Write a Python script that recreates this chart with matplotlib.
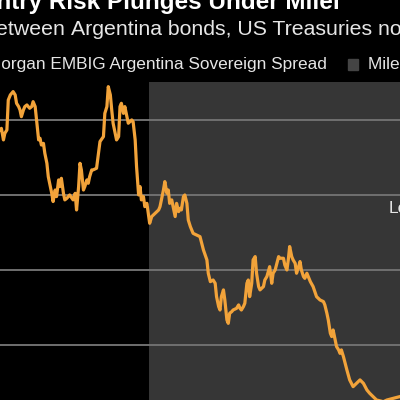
import matplotlib.pyplot as plt
import pandas as pd

# days since 2023-05-08 and spread in bps (JPMorgan EMBIG Argentina)
days = [0, 2, 5, 7, 10, 12, 15, 19, 22, 24, 27, 29, 31, 34, 36, 39, 41, 43, 46, 48,
        51, 53, 56, 58, 60, 63, 65, 68, 70, 72, 75, 77, 80, 82, 85, 87, 89, 92, 94, 97,
        101, 106, 109, 111, 114, 116, 118, 121, 123, 126, 128, 130, 133, 135, 140, 145,
        150, 152, 155, 157, 160, 162, 164, 169, 172, 174, 176, 179, 181, 184, 186, 191,
        193, 196, 198, 201, 203, 205, 208, 210, 213, 215, 217, 220, 225, 230, 232, 237,
        239, 242, 244, 246, 249, 251, 254, 256, 259, 261, 263, 266, 268, 271, 273, 276,
        278, 280, 285, 290, 295, 300, 302, 305, 309, 312, 314, 317, 319, 321, 324, 326,
        329, 331, 333, 336, 338, 343, 346, 348, 350, 353, 355, 358, 360, 362, 365, 367,
        370, 372, 375, 377, 382, 384, 387, 389, 391, 394, 396, 399, 404, 406, 411, 413,
        416, 418, 420, 423, 425, 428, 430, 433, 435, 437, 440, 442, 445, 447, 450, 454,
        459, 464, 469, 471, 474, 476, 479, 481, 483, 486, 488, 491, 493, 495, 498, 503,
        507, 512, 517, 522, 527, 532, 536, 541, 546, 556, 561, 570, 580]
spread = [2433, 2444, 2367, 2411, 2433, 2633, 2667, 2689, 2667, 2611, 2589, 2567, 2522,
          2567, 2589, 2600, 2589, 2578, 2589, 2622, 2589, 2500, 2367, 2378, 2333, 2344,
          2278, 2211, 2122, 2078, 2011, 1956, 2033, 1989, 2100, 2056, 2111, 2011, 1967,
          1978, 2000, 1967, 2011, 1900, 2056, 2211, 2167, 2033, 2056, 2100, 2078, 2122,
          2167, 2167, 2178, 2356, 2389, 2544, 2589, 2722, 2667, 2567, 2478, 2367, 2389,
          2589, 2611, 2544, 2589, 2522, 2478, 2500, 2489, 2367, 2189, 2000, 2056, 1967,
          1989, 1922, 1944, 1878, 1811, 1856, 1878, 1900, 1922, 2033, 2089, 2011, 2033,
          1944, 1967, 1922, 1856, 1944, 1889, 1911, 1900, 1989, 2000, 1944, 1833, 1789,
          1767, 1744, 1733, 1722, 1633, 1567, 1478, 1422, 1433, 1411, 1322, 1256, 1233,
          1322, 1367, 1300, 1167, 1144, 1211, 1222, 1233, 1244, 1267, 1244, 1233, 1256,
          1278, 1411, 1433, 1322, 1411, 1567, 1589, 1478, 1389, 1367, 1389, 1433, 1456,
          1489, 1522, 1411, 1478, 1500, 1589, 1578, 1578, 1533, 1500, 1567, 1656, 1589,
          1567, 1544, 1478, 1522, 1556, 1500, 1456, 1444, 1478, 1456, 1422, 1389, 1322,
          1300, 1289, 1267, 1211, 1167, 1078, 1056, 1100, 1033, 989, 967, 944, 967, 922,
          833, 767, 722, 744, 767, 744, 700, 678, 656, 633, 622, 633, 644, 656]
grid_levels = [1000, 1500, 2000, 2500]

start = pd.Timestamp('2023-05-08')
dates = start + pd.to_timedelta(days, unit='D')
milei_start = pd.Timestamp('2023-12-10')

fig = plt.figure(figsize=(4, 4), dpi=100, facecolor='black')
ax = fig.add_axes([0, 0, 1, 318 / 400])
ax.set_facecolor('black')

ax.axvspan(milei_start, start + pd.Timedelta(days=700), color='#363636', lw=0, zorder=0)
for g in grid_levels:
    ax.axhline(g, color='#707070', lw=1.4, zorder=1)
ax.plot(dates, spread, color='#f2a33a', lw=2.3, zorder=3, solid_joinstyle='round')

ax.set_xlim(start, start + pd.Timedelta(days=580))
ax.set_ylim(633, 2753)
ax.axis('off')

font = 'Liberation Sans'
fig.text(340 / 400, 1 - 9 / 400, 'Argentina Country Risk Plunges Under Milei',
         ha='right', va='baseline', color='white', fontsize=17.5, fontweight='bold',
         family=font)
fig.text(71 / 400, 1 - 35 / 400, 'Argentina bonds, US Treasuries now at lowest level',
         ha='left', va='baseline', color='#e6e6e6', fontsize=15.3, family=font)
fig.text(71 / 400, 1 - 35 / 400, 'Spread between ', ha='right', va='baseline',
         color='#e6e6e6', fontsize=15.3, family=font)
fig.text(327 / 400, 1 - 69 / 400, 'JPMorgan EMBIG Argentina Sovereign Spread',
         ha='right', va='baseline', color='#e6e6e6', fontsize=12.4, family=font)
fig.patches.append(plt.Rectangle((348 / 400, 1 - 70 / 400), 10 / 400, 11 / 400,
                                 transform=fig.transFigure, color='#444444'))
fig.text(368 / 400, 1 - 69 / 400, 'Milei presidency', ha='left', va='baseline',
         color='#e6e6e6', fontsize=12.4, family=font)
fig.text(389 / 400, 1 - 213 / 400, 'Lowest', ha='left', va='baseline',
         color='#e6e6e6', fontsize=12.5, family=font)

fig.savefig('out.png', dpi=100, facecolor='black')
